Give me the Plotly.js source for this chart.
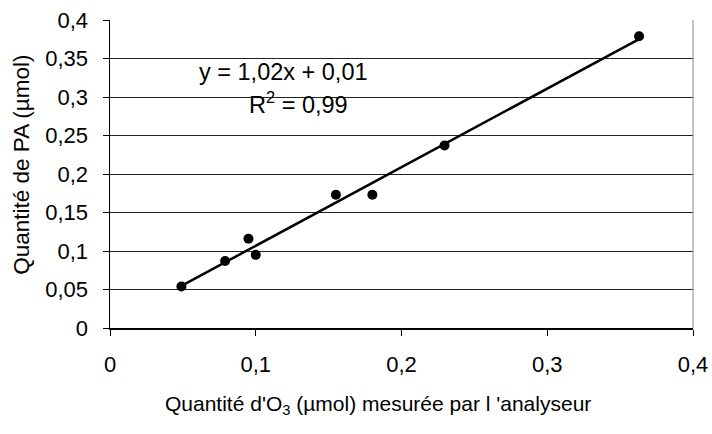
<!DOCTYPE html>
<html>
<head>
<meta charset="utf-8">
<script src="https://cdn.plot.ly/plotly-3.0.1.min.js"></script>
<style>html,body{margin:0;padding:0;background:#fff;}#chart{width:712px;height:434px;}</style>
</head>
<body>
<div id="chart"></div>
<script>
// Data
const ozoneMeasured = [0.049, 0.079, 0.095, 0.100, 0.155, 0.180, 0.2295, 0.363]; // x (µmol O3)
const paQuantity    = [0.054, 0.087, 0.116, 0.095, 0.173, 0.173, 0.237, 0.379];  // y (µmol PA)
const xTicks = [0, 0.1, 0.2, 0.3, 0.4];
const yTicks = [0, 0.05, 0.1, 0.15, 0.2, 0.25, 0.3, 0.35, 0.4];
const equationText = "y = 1,02x + 0,01";
const r2Text = "R<sup>2</sup> = 0,99";

// least-squares trend line from the data
const n = ozoneMeasured.length;
const mx = ozoneMeasured.reduce((a,b)=>a+b,0)/n;
const my = paQuantity.reduce((a,b)=>a+b,0)/n;
let sxy=0, sxx=0;
for (let i=0;i<n;i++){ sxy+=(ozoneMeasured[i]-mx)*(paQuantity[i]-my); sxx+=(ozoneMeasured[i]-mx)**2; }
const slope = sxy/sxx, intercept = my - slope*mx;
const xmin = Math.min(...ozoneMeasured), xmax = Math.max(...ozoneMeasured);
const trendX = [xmin, xmax];
const trendY = trendX.map(x => slope*x + intercept);

const font = {family: 'Liberation Sans, Arial, sans-serif', color: '#000'};
const F = s => Object.assign({size: s}, font);

const traces = [
  {x: trendX, y: trendY, mode: 'lines', line: {color: '#000', width: 2.5}, hoverinfo: 'skip', showlegend: false},
  {x: ozoneMeasured, y: paQuantity, mode: 'markers', marker: {color: '#000', size: 10}, showlegend: false}
];

const layout = {
  width: 712, height: 434,
  margin: {l: 110, r: 19, t: 20, b: 106},
  paper_bgcolor: '#fff', plot_bgcolor: '#fff',
  separators: ', ',
  font: F(22),
  showlegend: false,
  xaxis: {
    range: [0, 0.4], tickvals: xTicks, tickformat: '.1~f',
    showgrid: false, zeroline: false,
    showline: true, linecolor: '#000', linewidth: 1.5,
    ticks: 'outside', ticklen: 6, tickcolor: '#000', tickwidth: 1,
    ticklabelstandoff: 10,
    tickfont: F(22)
  },
  yaxis: {
    range: [0, 0.4], tickvals: yTicks, tickformat: '.2~f',
    showgrid: true, gridcolor: '#222', gridwidth: 1,
    zeroline: false,
    showline: true, linecolor: '#000', linewidth: 1.5,
    ticks: 'outside', ticklen: 6, tickcolor: '#000', tickwidth: 1,
    ticklabelstandoff: 10,
    tickfont: F(22)
  },
  shapes: [
    {type: 'line', xref: 'paper', yref: 'paper', x0: 1, x1: 1, y0: 0, y1: 1, line: {color: '#888', width: 1}}
  ],
  annotations: [
    {x: 0.1187, y: 0.333, xref: 'x', yref: 'y', xanchor: 'center', yanchor: 'middle', text: equationText, showarrow: false,
     font: F(23.5)},
    {x: 0.129, y: 0.292, xref: 'x', yref: 'y', xanchor: 'center', yanchor: 'middle', text: r2Text, showarrow: false,
     font: F(23.5)},
    {x: 0.46, y: -0.25, xref: 'paper', yref: 'paper', xanchor: 'center', yanchor: 'middle',
     text: "Quantité d'O<sub>3</sub> (µmol) mesurée par l 'analyseur",
     showarrow: false, font: F(21)},
    {x: -0.151, y: 0.53, xref: 'paper', yref: 'paper', xanchor: 'center', yanchor: 'middle',
     text: "Quantité de PA (µmol)", textangle: -90,
     showarrow: false, font: F(22.5)}
  ]
};

Plotly.newPlot('chart', traces, layout, {displayModeBar: false, staticPlot: true});
</script>
</body>
</html>
